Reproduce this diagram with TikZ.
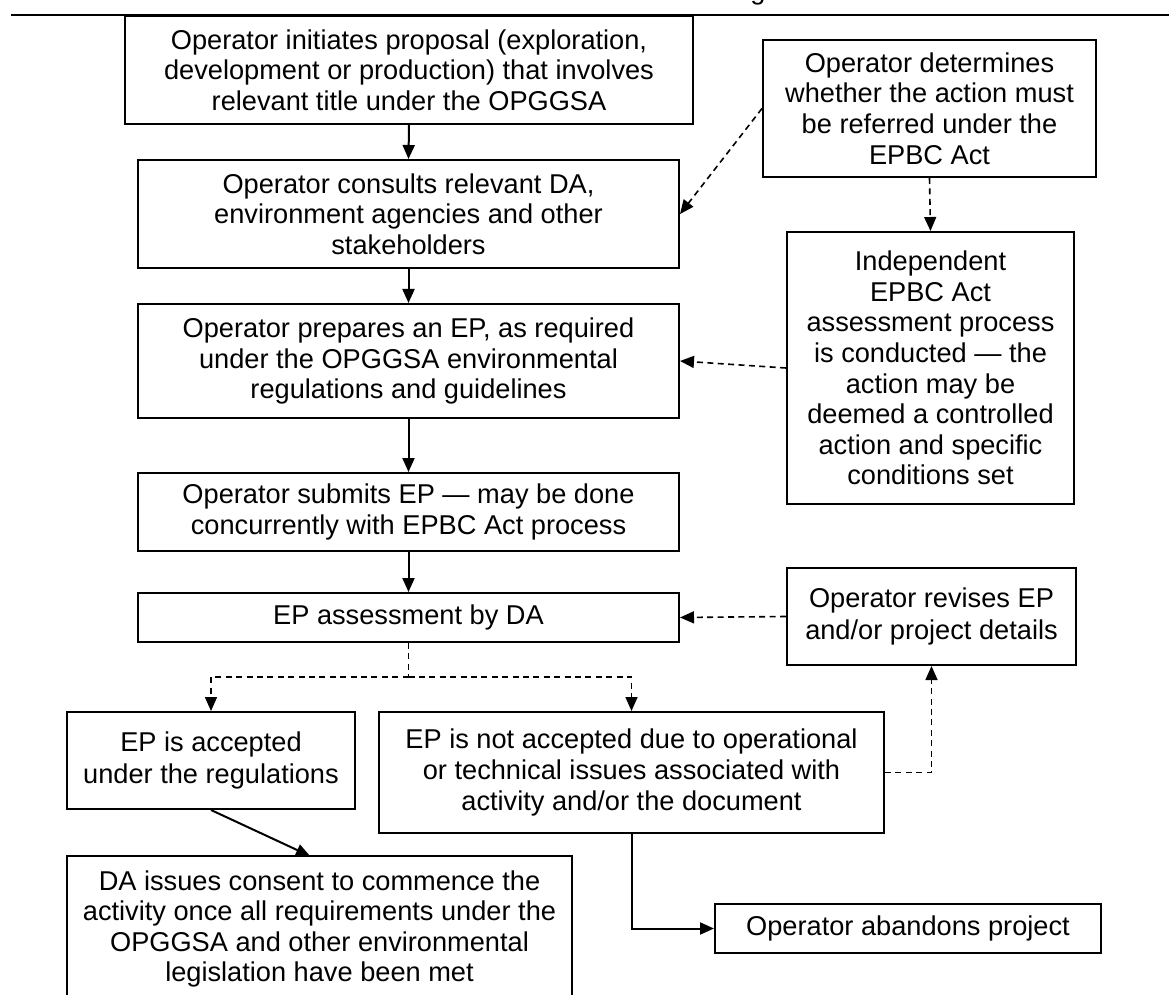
\documentclass[tikz,border=0pt]{standalone}
\usepackage{fontspec}
\setmainfont{Liberation Sans}
\usetikzlibrary{arrows.meta}
\begin{document}
\begin{tikzpicture}[x=0.5pt,y=-0.5pt,
  font=\fontsize{13.6}{15.3}\selectfont,
  box/.style={draw, line width=1pt, align=center, inner sep=0pt},
  solidarrow/.style={line width=1pt, -{Triangle[length=7pt,width=6pt]}},
  dasharrow/.style={line width=0.8pt, dash pattern=on 3pt off 2.2pt, -{Triangle[length=7pt,width=6pt]}},
  dashline/.style={line width=0.8pt, dash pattern=on 3pt off 2.2pt}]
\useasboundingbox (0,0) rectangle (1169,995);
% header remnant and rule
\node[anchor=base, inner sep=0pt] (hdr) at (758,0) {g};
\coordinate (ruleL) at (11,15);
\coordinate (ruleR) at (1169,15);
\draw[line width=1.2pt] (ruleL) -- (ruleR);
% main column
\node[box, minimum width=284pt, minimum height=54pt] (init) at (409,70)
  {Operator initiates proposal (exploration,\\development or production) that involves\\relevant title under the OPGGSA};
\node[box, minimum width=270.5pt, minimum height=54pt] (consult) at (408.5,214)
  {Operator consults relevant DA,\\environment agencies and other\\stakeholders};
\node[box, minimum width=270.5pt, minimum height=57pt] (prep) at (408.5,361)
  {Operator prepares an EP, as required\\under the OPGGSA environmental\\regulations and guidelines};
\node[box, minimum width=270.5pt, minimum height=39pt] (submit) at (408.5,512)
  {Operator submits EP — may be done\\concurrently with EPBC Act process};
\node[box, minimum width=270.5pt, minimum height=24.5pt] (assess) at (408.5,617.5)
  {EP assessment by DA};
% right column
\node[box, minimum width=166.5pt, minimum height=68.5pt] (determ) at (929.5,108.5)
  {Operator determines\\whether the action must\\be referred under the\\EPBC Act};
\node[box, minimum width=143.5pt, minimum height=136pt] (indep) at (930.5,368)
  {Independent\\EPBC Act\\assessment process\\is conducted — the\\action may be\\deemed a controlled\\action and specific\\conditions set};
\node[box, minimum width=144.5pt, minimum height=48.5pt] (revise) at (931.5,616.5)
  {\raisebox{3pt}{\shortstack{Operator revises EP\\and/or project details}}};
% lower part
\node[box, minimum width=144pt, minimum height=48.5pt] (accept) at (211,760.5)
  {\raisebox{3pt}{\shortstack{EP is accepted\\under the regulations}}};
\node[box, minimum width=252.5pt, minimum height=60.5pt] (notacc) at (631.5,772.5)
  {EP is not accepted due to operational\\or technical issues associated with\\activity and/or the document};
\node[box, minimum width=252.5pt, minimum height=73pt] (issue) at (319.5,929)
  {DA issues consent to commence the\\activity once all requirements under the\\OPGGSA and other environmental\\legislation have been met};
\node[box, minimum width=193pt, minimum height=24.5pt] (abandon) at (908,928.5)
  {Operator abandons project};
% connectors
\draw[solidarrow] (init.south) -- (consult.north);
\draw[solidarrow] (consult.south) -- (prep.north);
\draw[solidarrow] (prep.south) -- (submit.north);
\draw[solidarrow] (submit.south) -- (assess.north);
\draw[dasharrow] (determ.west) -- (consult.east);
\draw[dasharrow] (determ.south) -- (indep.north);
\draw[dasharrow] (indep.west) -- (prep.east);
\draw[dasharrow] (revise.west) -- (assess.east);
\coordinate (split) at (408.5,677);
\draw[dashline] (assess.south) -- (split);
\draw[dasharrow] (split) -| (accept.north);
\draw[dasharrow] (split) -| (notacc.north);
\draw[dasharrow] (notacc.east) -| (revise.south);
\coordinate (issuetop) at (310,856);
\draw[solidarrow] (accept.south) -- (issuetop);
\draw[solidarrow] (notacc.south) |- (abandon.west);
\end{tikzpicture}
\end{document}
